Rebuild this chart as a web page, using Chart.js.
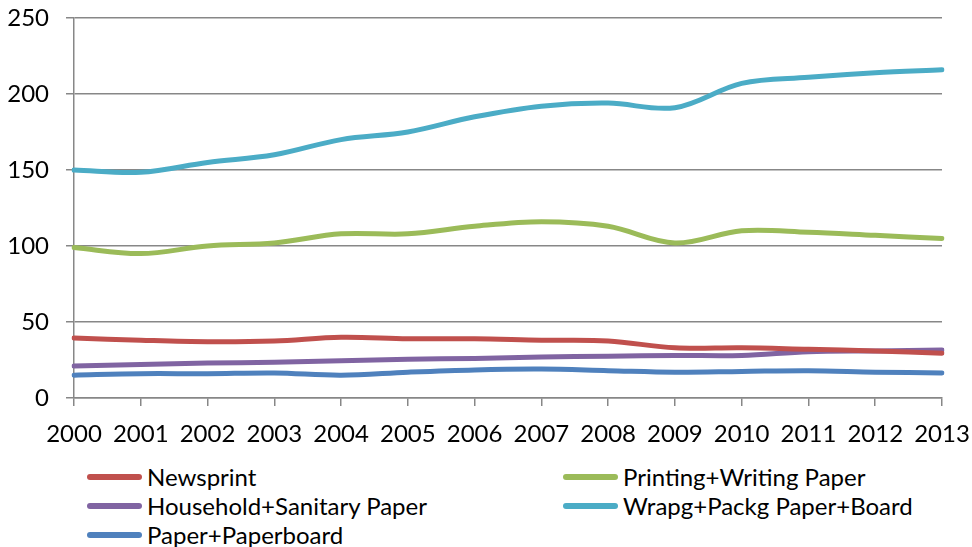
<!DOCTYPE html>
<html>
<head>
<meta charset="utf-8">
<script src="https://cdn.jsdelivr.net/npm/chart.js@4/dist/chart.umd.min.js"></script>
<style>
  body { margin: 0; background: #fff; font-family: Lato, "Open Sans", sans-serif; }
  #wrap { position: relative; width: 972px; height: 547px; overflow: hidden; }
  #chartBox { position: absolute; left: 0; top: 0; width: 972px; height: 448px; }
  #legend { position: absolute; left: 87px; top: 462px; width: 860px; }
  .item { position: absolute; display: flex; align-items: center; font-size: 24px; color: #000; white-space: nowrap; }
  .swatch { width: 55px; height: 6px; border-radius: 3px; margin-right: 5px; }
</style>
</head>
<body>
<div id="wrap">
  <div id="chartBox"><canvas id="paperChart"></canvas></div>
  <div id="legend"></div>
</div>
<script>
const years = ["2000", "2001", "2002", "2003", "2004", "2005", "2006", "2007", "2008", "2009", "2010", "2011", "2012", "2013"];

const newsprint = [39.5, 38, 37, 37.5, 40, 39, 39, 38, 37.5, 33, 33, 32, 31, 29.5];
const printingWriting = [99, 95, 100, 102, 108, 108, 113, 116, 113, 102, 110, 109, 107, 105];
const householdSanitary = [21, 22, 23, 23.5, 24.5, 25.5, 26, 27, 27.5, 28, 28, 30.5, 31, 31.5];
const wrapgPackg = [150, 148.5, 155, 160, 170, 175, 185, 192, 194, 191, 207, 211, 214, 216];
const paperboard = [15, 16, 16, 16.5, 15, 17, 18.5, 19, 18, 17, 17.5, 18, 17, 16.5];

const yTicks = [0, 50, 100, 150, 200, 250];

const series = [
  { label: "Newsprint", data: newsprint, color: "#C0504D" },
  { label: "Printing+Writing Paper", data: printingWriting, color: "#9BBB59" },
  { label: "Household+Sanitary Paper", data: householdSanitary, color: "#8064A2" },
  { label: "Wrapg+Packg Paper+Board", data: wrapgPackg, color: "#4BACC6" },
  { label: "Paper+Paperboard", data: paperboard, color: "#4F81BD" },
];

const axisGray = "#878787";
const fontFamily = "Lato, 'Open Sans', sans-serif";

const ctx = document.getElementById("paperChart").getContext("2d");

const chart = new Chart(ctx, {
  type: "line",
  data: {
    labels: years,
    datasets: series.map((s) => ({
      label: s.label,
      data: s.data,
      borderColor: s.color,
      backgroundColor: s.color,
      borderWidth: 5,
      tension: 0.35,
      pointRadius: 0,
      fill: false,
      borderCapStyle: "round",
    })),
  },
  options: {
    responsive: true,
    maintainAspectRatio: false,
    animation: false,
    layout: { padding: { top: 18, right: 30, left: 0, bottom: 0 } },
    plugins: {
      legend: { display: false },
      tooltip: { enabled: false },
    },
    scales: {
      x: {
        offset: false,
        afterFit(scale) {
          // fixed strip for the year labels, no extra side padding
          scale.height = 50;
          scale.paddingLeft = 0;
          scale.paddingRight = 0;
        },
        grid: {
          drawOnChartArea: false,
          drawTicks: true,
          tickLength: 8,
          color: axisGray,
          lineWidth: 1.5,
        },
        border: { color: axisGray, width: 1.5 },
        ticks: {
          color: "#000",
          font: { family: fontFamily, size: 24 },
          padding: 14,
          maxRotation: 0,
          autoSkip: false,
        },
      },
      y: {
        min: 0,
        max: 250,
        afterBuildTicks(scale) {
          scale.ticks = yTicks.map((v) => ({ value: v }));
        },
        afterFit(scale) {
          scale.width = 74;
          scale.paddingTop = 0;
          scale.paddingBottom = 0;
        },
        grid: {
          color: axisGray,
          lineWidth: 1.5,
          tickLength: 8,
        },
        border: { color: axisGray, width: 1.5 },
        ticks: {
          color: "#000",
          font: { family: fontFamily, size: 24 },
          padding: 17,
        },
      },
    },
  },
});

// two-column legend under the plot
const legendEl = document.getElementById("legend");
series.forEach((s, i) => {
  const item = document.createElement("div");
  item.className = "item";
  item.style.left = (i % 2 === 0 ? 0 : 476) + "px";
  item.style.top = Math.floor(i / 2) * 29 + "px";
  const sw = document.createElement("span");
  sw.className = "swatch";
  sw.style.background = s.color;
  const txt = document.createElement("span");
  txt.textContent = s.label;
  item.appendChild(sw);
  item.appendChild(txt);
  legendEl.appendChild(item);
});
</script>
</body>
</html>
